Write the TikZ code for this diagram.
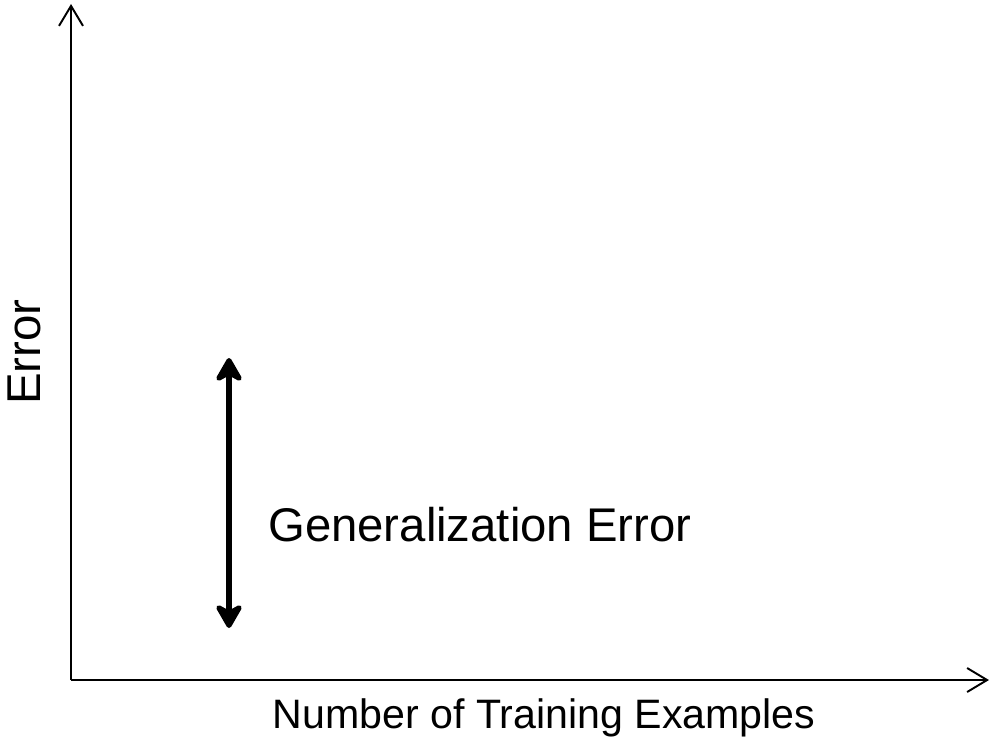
\documentclass[tikz,border=0pt]{standalone}
\usepackage{fontspec}
\setmainfont{Liberation Sans}
\usepackage{tikz}
\usetikzlibrary{positioning,calc,arrows.meta}
\definecolor{AxisBlack}{RGB}{0,0,0}

\begin{document}
\begin{tikzpicture}
    \useasboundingbox (0,0) rectangle (19.8,14.88);
    \coordinate (origin) at (1.42,1.28);
    \coordinate (ytop) at (1.42,14.8);
    \coordinate (xend) at (19.78,1.28);
    \draw[color=AxisBlack, line width=1.1pt, -{Straight Barb[length=0.4cm,width=0.48cm]}] (origin) -- (ytop);
    \draw[color=AxisBlack, line width=1.1pt, -{Straight Barb[length=0.4cm,width=0.48cm]}] (origin) -- (xend);
    \coordinate (gtop) at (4.58,7.72);
    \coordinate (gbot) at (4.58,2.32);
    \draw[color=AxisBlack, line width=3pt, {Stealth[length=0.58cm,width=0.66cm,inset=0.18cm,round]}-{Stealth[length=0.58cm,width=0.66cm,inset=0.18cm,round]}] (gtop) -- (gbot);
    \node[anchor=west, inner sep=0pt, font=\fontsize{26.9}{32}\selectfont] (generr) at (5.36,4.38) {Generalization Error};
    \node[inner sep=0pt, font=\fontsize{23.4}{28}\selectfont] (xlabel) at (10.88,0.52) {Number of Training Examples};
    \node[inner sep=0pt, rotate=90, font=\fontsize{27}{32}\selectfont] (ylabel) at (0.48,7.84) {Error};
  \end{tikzpicture}
\end{document}
